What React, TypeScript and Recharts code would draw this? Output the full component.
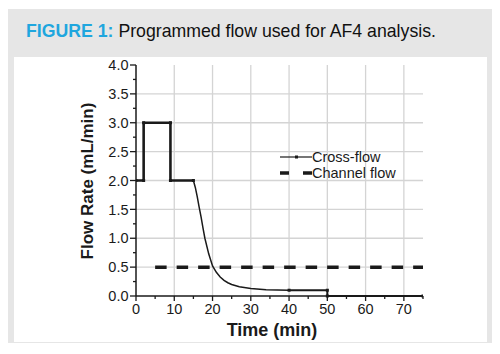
import React from 'react';
import { LineChart, Line, XAxis, YAxis, CartesianGrid } from 'recharts';

// cross-flow program (min, mL/min)
const crossTime = [0, 2, 2, 9, 9, 15, 15.5, 16, 16.5, 17, 17.5, 18, 19, 20, 21, 22, 23, 24, 25, 27, 30, 34, 40, 50, 50, 75];
const crossFlow = [2, 2, 3, 3, 2, 2, 1.88, 1.72, 1.54, 1.37, 1.18, 1.0, 0.73, 0.52, 0.41, 0.33, 0.27, 0.23, 0.2, 0.16, 0.13, 0.11, 0.1, 0.1, 0, 0];

// channel flow (constant)
const channelTime = [5, 75];
const channelFlow = [0.5, 0.5];

const xTicks = [0, 5, 10, 15, 20, 25, 30, 35, 40, 45, 50, 55, 60, 65, 70, 75];
const yTicks = [0, 0.25, 0.5, 0.75, 1, 1.25, 1.5, 1.75, 2, 2.25, 2.5, 2.75, 3, 3.25, 3.5, 3.75, 4];
const xGrid = [10, 20, 30, 40, 50, 60, 70];
const yGrid = [0.5, 1, 1.5, 2, 2.5, 3, 3.5];

const crossData = crossTime.map((t, i) => ({ t, v: crossFlow[i] }));
// split so the programmed steps can be drawn heavier than the decay curve
const stepsHead = crossData.filter((d) => d.t <= 15);
const decay = crossData.filter((d) => d.t >= 15 && d.t <= 40);
const stepsTail = crossData.filter((d) => d.t >= 40);
const channelData = channelTime.map((t, i) => ({ t, v: channelFlow[i] }));

const FONT = "'Liberation Sans', Arial, Helvetica, sans-serif";
const INK = '#1a1a1a';

const XTick = ({ x, y, payload }: any) => {
  const v = payload.value;
  const major = v % 10 === 0 && v <= 70;
  return (
    <g>
      <line x1={x} y1={y} x2={x} y2={y + (major ? 5 : 3)} stroke={INK} strokeWidth={1.3} />
      {major && (
        <text x={x} y={y + 8} dy="0.71em" textAnchor="middle" fontSize={14.5} fontFamily={FONT} fill={INK}>
          {v}
        </text>
      )}
    </g>
  );
};

const YTick = ({ x, y, payload }: any) => {
  const v = payload.value;
  const major = Math.abs(v * 2 - Math.round(v * 2)) < 1e-6;
  return (
    <g>
      <line x1={x} y1={y} x2={x - (major ? 6 : 3)} y2={y} stroke={INK} strokeWidth={1.3} />
      {major && (
        <text x={x - 7.5} y={y} dy="0.355em" textAnchor="end" fontSize={14.5} fontFamily={FONT} fill={INK}>
          {v.toFixed(1)}
        </text>
      )}
    </g>
  );
};

const CornerDot = ({ cx, cy, index }: any) => (
  <rect key={index} x={cx - 1.5} y={cy - 1.5} width={3} height={3} fill={INK} />
);

const LegendBox = () => (
  <div style={{ fontFamily: FONT, fontSize: 14.5, color: INK, lineHeight: '16px' }}>
    <div style={{ display: 'flex', alignItems: 'center' }}>
      <svg width={32} height={16}>
        <line x1={0} y1={8} x2={32} y2={8} stroke={INK} strokeWidth={1.2} />
        <rect x={15} y={6.5} width={3} height={3} fill={INK} />
      </svg>
      <span>Cross-flow</span>
    </div>
    <div style={{ display: 'flex', alignItems: 'center' }}>
      <svg width={32} height={16}>
        <line x1={0} y1={8} x2={32} y2={8} stroke={INK} strokeWidth={3.5} strokeDasharray="9 14" />
      </svg>
      <span>Channel flow</span>
    </div>
  </div>
);

export default function App() {
  return (
    <div style={{ position: 'absolute', left: 0, top: 0, width: 500, height: 354, background: '#fff' }}>
      <div style={{ position: 'absolute', left: 8, top: 9, width: 484, height: 334, background: '#e6e6e6' }} />
      <div
        style={{
          position: 'absolute',
          left: 26,
          top: 21,
          fontFamily: FONT,
          fontSize: 17.7,
          lineHeight: '20px',
          whiteSpace: 'nowrap',
          color: '#111',
        }}
      >
        <span style={{ color: '#1fa6de', fontWeight: 'bold' }}>FIGURE 1:</span> Programmed flow used for AF4 analysis.
      </div>
      <div style={{ position: 'absolute', left: 14, top: 57, width: 473, height: 285, background: '#fff' }}>
        <LineChart width={473} height={285} margin={{ top: 8, right: 64, left: 72, bottom: 16 }}>
          <CartesianGrid
            stroke="#d4d4d4"
            strokeWidth={1.3}
            horizontalValues={yGrid}
            verticalValues={xGrid}
          />
          <XAxis
            dataKey="t"
            type="number"
            domain={[0, 75]}
            ticks={xTicks}
            interval={0}
            allowDataOverflow
            height={30}
            tickSize={0}
            tickMargin={0}
            tickLine={false}
            tick={<XTick />}
            axisLine={{ stroke: INK, strokeWidth: 1.5 }}
          />
          <YAxis
            dataKey="v"
            type="number"
            domain={[0, 4]}
            ticks={yTicks}
            interval={0}
            width={50}
            tickSize={0}
            tickMargin={0}
            tickLine={false}
            tick={<YTick />}
            axisLine={{ stroke: INK, strokeWidth: 1.5 }}
          />
          <Line
            data={channelData}
            dataKey="v"
            name="Channel flow"
            type="linear"
            stroke={INK}
            strokeWidth={3.5}
            strokeDasharray="11.5 10"
            dot={false}
            activeDot={false}
            isAnimationActive={false}
          />
          <Line
            data={stepsHead}
            dataKey="v"
            name="Cross-flow"
            type="linear"
            stroke={INK}
            strokeWidth={2.6}
            dot={<CornerDot />}
            activeDot={false}
            isAnimationActive={false}
          />
          <Line
            data={decay}
            dataKey="v"
            name="Cross-flow decay"
            type="linear"
            stroke={INK}
            strokeWidth={1.5}
            dot={false}
            activeDot={false}
            isAnimationActive={false}
          />
          <Line
            data={stepsTail}
            dataKey="v"
            name="Cross-flow tail"
            type="linear"
            stroke={INK}
            strokeWidth={2}
            dot={<CornerDot />}
            activeDot={false}
            isAnimationActive={false}
          />
        </LineChart>
      </div>
      <div style={{ position: 'absolute', left: 280, top: 149 }}>
        <LegendBox />
      </div>
      <div
        style={{
          position: 'absolute',
          left: 212,
          top: 320,
          width: 120,
          textAlign: 'center',
          fontFamily: FONT,
          fontSize: 18,
          fontWeight: 'bold',
          lineHeight: '20px',
          color: INK,
          whiteSpace: 'nowrap',
        }}
      >
        Time (min)
      </div>
      <div
        style={{
          position: 'absolute',
          left: -12,
          top: 171,
          width: 200,
          height: 20,
          lineHeight: '20px',
          textAlign: 'center',
          transform: 'rotate(-90deg)',
          fontFamily: FONT,
          fontSize: 17,
          fontWeight: 'bold',
          color: INK,
          whiteSpace: 'nowrap',
        }}
      >
        Flow Rate (mL/min)
      </div>
    </div>
  );
}
